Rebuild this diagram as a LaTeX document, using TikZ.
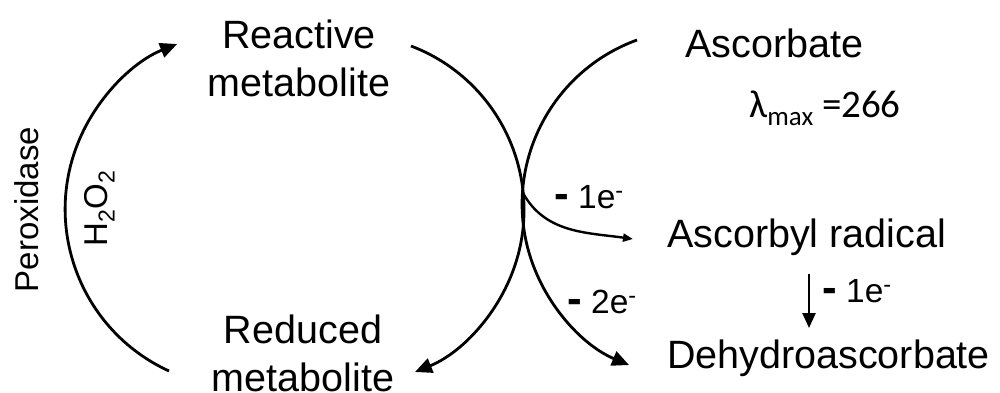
\documentclass[tikz,border=0pt]{standalone}
\usepackage{fontspec}
\setmainfont{Liberation Sans}
\newfontfamily\carl{Carlito}
\usetikzlibrary{arrows.meta}
\begin{document}
\begin{tikzpicture}[x=1pt,y=1pt,
  lbl/.style={inner sep=0pt, font=\fontsize{39.5}{48}\selectfont},
  side/.style={inner sep=0pt, font=\fontsize{33}{40}\selectfont, rotate=90, anchor=base},
  el/.style={inner sep=0pt, anchor=base west, font=\fontsize{33.5}{38}\selectfont},
  thk/.style={line width=2.8pt},
  thn/.style={line width=2.4pt},
  bigtip/.style={-{Triangle[length=17pt,width=15pt]}},
  smalltip/.style={-{Triangle[length=10pt,width=8pt]}},
  midtip/.style={-{Triangle[length=15pt,width=13pt]}}
]
\useasboundingbox (0,0) rectangle (1000,392);

% labels
\node[lbl, anchor=base, align=center] (react) at (299,296) {Reactive\\metabolite};
\node[lbl, anchor=base, align=center] (red) at (303,1) {Reduced\\metabolite};
\node[lbl, anchor=base west] (asc) at (685,335) {Ascorbate};
\node[lbl, anchor=base west] (rad) at (667,145) {Ascorbyl radical};
\node[lbl, anchor=base west] (dhy) at (667,24) {Dehydroascorbate};
\node[inner sep=0pt, anchor=base west, font=\carl\fontsize{39}{42}\selectfont] (lam) at (749,275)
  {λ\raisebox{-8pt}{\fontsize{27}{27}\selectfont max} =266};
\node[side] (perox) at (38,182.5) {Peroxidase};
\node[side] (h2o2) at (107,183.5) {H\textsubscript{2}O\textsubscript{2}};

\node[el] (e1) at (554,184) {{\fontsize{44}{44}\bfseries -} 1e\textsuperscript{-}};
\node[el] (e2) at (567,79) {{\fontsize{44}{44}\bfseries -} 2e\textsuperscript{-}};
\node[el] (e3) at (822,90) {{\fontsize{44}{44}\bfseries -} 1e\textsuperscript{-}};

% connector end points
\coordinate (pA) at (169,21);
\coordinate (mA) at (411,346);
\coordinate (aA) at (637,352);
\coordinate (br) at (522.4,200.1);
\coordinate (brend) at (633,153);
\coordinate (vt) at (809,118);
\coordinate (vb) at (809,64);

% peroxidase arc
\draw[thk,bigtip] (pA) arc[start angle=245.4, end angle=111.75, radius=177.9];
% metabolite arc
\draw[thk,bigtip] (mA) arc[start angle=69.2, end angle=-67.8, radius=175.2];
% ascorbate arc
\draw[thk,bigtip] (aA) arc[start angle=110.0, end angle=247.2, radius=174.6];
% branch to ascorbyl radical
\draw[thn,smalltip] (br) to[out=-62, in=172] (brend);
% ascorbyl radical to dehydroascorbate
\draw[thn,midtip] (vt) -- (vb);
\end{tikzpicture}
\end{document}
